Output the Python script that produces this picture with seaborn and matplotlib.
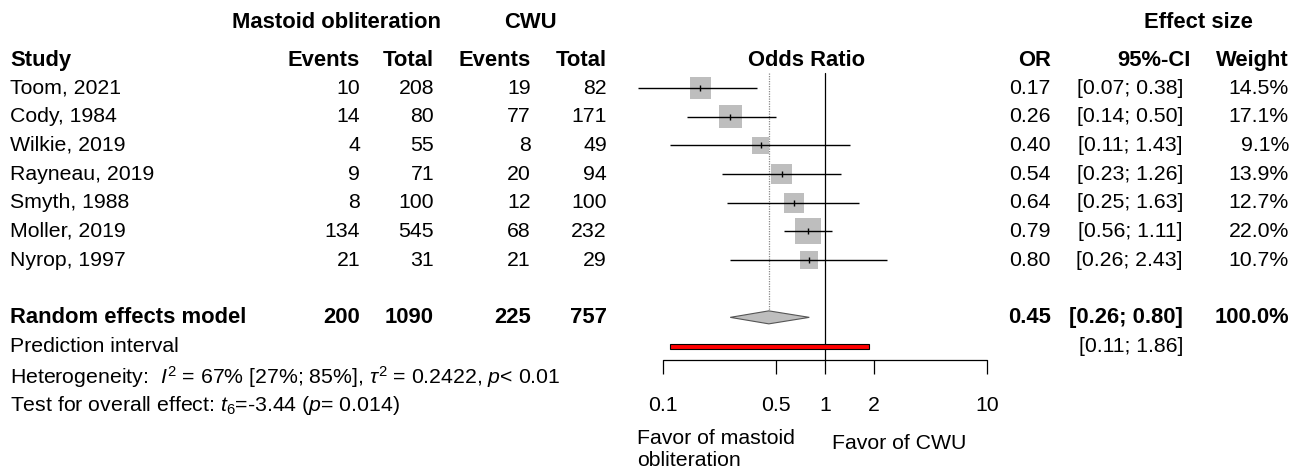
import numpy as np
import pandas as pd
import matplotlib
matplotlib.use("Agg")
import matplotlib.pyplot as plt
from matplotlib.patches import Rectangle
import seaborn as sns

# ---------------- data ----------------
studies = ["Toom, 2021", "Cody, 1984", "Wilkie, 2019", "Rayneau, 2019",
           "Smyth, 1988", "Moller, 2019", "Nyrop, 1997"]
events_mo = [10, 14, 4, 9, 8, 134, 21]
total_mo = [208, 80, 55, 71, 100, 545, 31]
events_cwu = [19, 77, 8, 20, 12, 68, 21]
total_cwu = [82, 171, 49, 94, 100, 232, 29]
odds_ratio = [0.17, 0.26, 0.40, 0.54, 0.64, 0.79, 0.80]
ci_low = [0.07, 0.14, 0.11, 0.23, 0.25, 0.56, 0.26]
ci_high = [0.38, 0.50, 1.43, 1.26, 1.63, 1.11, 2.43]
weights = [14.5, 17.1, 9.1, 13.9, 12.7, 22.0, 10.7]

pooled_totals = [200, 1090, 225, 757]
pooled_or = 0.45
pooled_ci = [0.26, 0.80]
pred_interval = [0.11, 1.86]
axis_ticks = [0.1, 0.5, 1, 2, 10]
axis_tick_labels = ["0.1", "0.5", "1", "2", "10"]

# ---------------- style ----------------
sns.set_theme(style="white")
plt.rcParams["font.family"] = ["Liberation Sans", "DejaVu Sans"]
plt.rcParams["mathtext.fontset"] = "custom"
plt.rcParams["mathtext.rm"] = "Liberation Sans"
plt.rcParams["mathtext.it"] = "Liberation Sans:italic"
plt.rcParams["mathtext.bf"] = "Liberation Sans:bold"
FS = 15.3
FSB = 15.8

W, H = 1296, 473
fig = plt.figure(figsize=(W / 100, H / 100), dpi=100)

# row geometry (row units)
ROW0_PX, ROW_PX = 88.0, 28.67
ylim = ((H - ROW0_PX) / ROW_PX, -ROW0_PX / ROW_PX)

def row_of(px):
    return (px - ROW0_PX) / ROW_PX

# text axes: x in pixels, y in rows
tax = fig.add_axes([0, 0, 1, 1])
tax.set_xlim(0, W)
tax.set_ylim(*ylim)
tax.axis("off")

# forest axes: log x
FX0, FX1 = 600, 1050
fax = fig.add_axes([FX0 / W, 0, (FX1 - FX0) / W, 1])
fax.set_xscale("log")
fax.set_xlim(10 ** ((FX0 - 825) / 162.0), 10 ** ((FX1 - 825) / 162.0))
fax.set_ylim(*ylim)
fax.axis("off")
fax.patch.set_alpha(0)

n = len(studies)
rows = list(range(n))
row_pooled = n + 1
row_pred = n + 2
row_het = row_of(377)
row_test = row_of(405)
row_hdr = row_of(60)
row_top = row_of(22)

# column right edges (px)
C_EV1, C_TOT1, C_EV2, C_TOT2 = 360, 434, 531, 607
C_OR, C_CI, C_W = 1051, 1183, 1289

def t(x, y, s, ha="left", bold=False, **kw):
    tax.text(x, y, s, ha=ha, va="center", fontsize=FSB if bold else FS,
             fontweight="bold" if bold else "normal", color="black", **kw)

# headers
t(336, row_top, "Mastoid obliteration", ha="center", bold=True)
t(530, row_top, "CWU", ha="center", bold=True)
t(1198, row_top, "Effect size", ha="center", bold=True)
t(10, row_hdr, "Study", bold=True)
t(C_EV1, row_hdr, "Events", ha="right", bold=True)
t(C_TOT1, row_hdr, "Total", ha="right", bold=True)
t(C_EV2, row_hdr, "Events", ha="right", bold=True)
t(C_TOT2, row_hdr, "Total", ha="right", bold=True)
t(807, row_hdr, "Odds Ratio", ha="center", bold=True)
t(C_OR, row_hdr, "OR", ha="right", bold=True)
t(1191, row_hdr, "95%-CI", ha="right", bold=True)
t(C_W, row_hdr, "Weight", ha="right", bold=True)

for i in rows:
    t(10, i, studies[i])
    t(C_EV1, i, f"{events_mo[i]}", ha="right")
    t(C_TOT1, i, f"{total_mo[i]}", ha="right")
    t(C_EV2, i, f"{events_cwu[i]}", ha="right")
    t(C_TOT2, i, f"{total_cwu[i]}", ha="right")
    t(C_OR, i, f"{odds_ratio[i]:.2f}", ha="right")
    t(C_CI, i, f"[{ci_low[i]:.2f}; {ci_high[i]:.2f}]", ha="right")
    t(C_W, i, f"{weights[i]:.1f}%", ha="right")

# pooled row
t(10, row_pooled, "Random effects model", bold=True)
t(C_EV1, row_pooled, f"{pooled_totals[0]}", ha="right", bold=True)
t(C_TOT1, row_pooled, f"{pooled_totals[1]}", ha="right", bold=True)
t(C_EV2, row_pooled, f"{pooled_totals[2]}", ha="right", bold=True)
t(C_TOT2, row_pooled, f"{pooled_totals[3]}", ha="right", bold=True)
t(C_OR, row_pooled, f"{pooled_or:.2f}", ha="right", bold=True)
t(C_CI, row_pooled, f"[{pooled_ci[0]:.2f}; {pooled_ci[1]:.2f}]", ha="right", bold=True)
t(C_W, row_pooled, "100.0%", ha="right", bold=True)

t(10, row_pred, "Prediction interval")
t(C_CI, row_pred, f"[{pred_interval[0]:.2f}; {pred_interval[1]:.2f}]", ha="right")
t(10, row_het, r"Heterogeneity:  $I^2$ = 67% [27%; 85%], $\tau^2$ = 0.2422, $p$< 0.01")
t(10, row_test, r"Test for overall effect: $t_6$=-3.44 ($p$= 0.014)")

# ---------------- forest ----------------
y_top_line = row_of(73)
y_axis = row_of(360)
y_tick_end = row_of(374)
dia_h = 6.5 / ROW_PX

fax.plot([1, 1], [y_top_line, y_axis], color="black", lw=0.9, zorder=1)
fax.plot([pooled_or, pooled_or], [y_top_line, row_pooled - dia_h], color="#888888",
         lw=0.9, ls=(0, (1, 1)), zorder=1)

df = pd.DataFrame({"study": studies, "row": rows, "or": odds_ratio,
                   "lo": ci_low, "hi": ci_high, "w": weights})
sns.scatterplot(data=df, x="or", y="row", size="w",
                sizes=(16 * min(weights), 16 * max(weights)),
                marker="s", color="#bebebe", linewidth=0, legend=False,
                ax=fax, zorder=2)
fax.hlines(df["row"], df["lo"], df["hi"], color="black", lw=1.0, zorder=3)
fax.scatter(df["or"], df["row"], marker="|", s=20, color="black", lw=1.0, zorder=4)

# diamond
fax.fill([pooled_ci[0], pooled_or, pooled_ci[1], pooled_or],
         [row_pooled, row_pooled - dia_h, row_pooled, row_pooled + dia_h],
         facecolor="#bebebe", edgecolor="#555555", lw=0.8, zorder=3)

# prediction interval
ph = 5.0 / ROW_PX
fax.add_patch(Rectangle((pred_interval[0], row_pred - ph / 2),
                        pred_interval[1] - pred_interval[0], ph,
                        facecolor="#ff0000", edgecolor="black", lw=0.8, zorder=3))

# axis
fax.plot([axis_ticks[0], axis_ticks[-1]], [y_axis, y_axis], color="black", lw=0.9)
fax.vlines(axis_ticks, y_axis, y_tick_end, color="black", lw=0.9)
y_lab = row_of(405)
for v, lab in zip(axis_ticks, axis_tick_labels):
    fax.text(v, y_lab, lab, ha="center", va="center", fontsize=FS, color="black")

t(637, row_of(438), "Favor of mastoid")
t(637, row_of(460), "obliteration")
t(832, row_of(443), "Favor of CWU")

fig.savefig("out.png", dpi=100, facecolor="white")
